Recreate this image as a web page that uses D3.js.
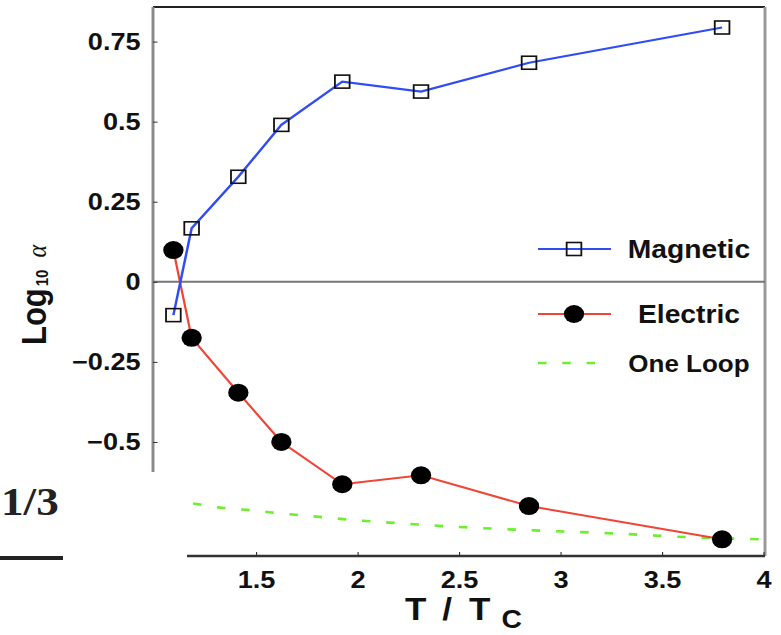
<!DOCTYPE html>
<html>
<head>
<meta charset="utf-8">
<script src="https://cdn.jsdelivr.net/npm/d3@7"></script>
<style>
  body { margin: 0; background: #fff; }
</style>
</head>
<body>
<div id="chart"></div>
<script>
// T / Tc positions shared by both lattice series
const tRatio = [1.093, 1.183, 1.413, 1.625, 1.925, 2.313, 2.845, 3.796];
const magnetic = [-0.104, 0.167, 0.328, 0.490, 0.625, 0.594, 0.684, 0.794];
const electric = [0.099, -0.175, -0.346, -0.500, -0.632, -0.604, -0.700, -0.804];

const oneLoopT = [1.19, 1.34, 1.47, 1.59, 1.71, 1.83, 1.95, 2.07, 2.19, 2.31, 2.43, 2.55, 2.79, 3.28, 3.62, 4.0];
const oneLoop = [-0.692, -0.706, -0.713, -0.721, -0.728, -0.735, -0.742, -0.748, -0.753, -0.758, -0.763, -0.767, -0.774, -0.786, -0.797, -0.804];

const yTicks = [0.75, 0.5, 0.25, 0, -0.25, -0.5];
const yTickLabels = ["0.75", "0.5", "0.25", "0", "\u22120.25", "\u22120.5"];
const xTicks = [1.5, 2, 2.5, 3, 3.5, 4];
const xTickLabels = ["1.5", "2", "2.5", "3", "3.5", "4"];
const legendNames = ["Magnetic", "Electric", "One Loop"];

const W = 781, H = 635;
// the original figure is squeezed wider than tall, so draw everything stretched
const sx = 1.13;
const frame = {left: 153, right: 765, top: 7, bottom: 556, leftEnd: 472, bottomStart: 187};
const sans = "Liberation Sans, Arial, sans-serif";
const serif = "Liberation Serif, DejaVu Serif, serif";

const svg = d3.select("#chart").append("svg")
    .attr("width", W)
    .attr("height", H);

const g = svg.append("g")
    .attr("transform", `scale(${sx},1)`)
    .style("font-family", sans)
    .style("font-weight", "bold");

const x = d3.scaleLinear().domain([1.5, 4]).range([256 / sx, 763.5 / sx]);
const y = d3.scaleLinear().domain([-0.856, 0.858]).range([frame.bottom, frame.top]);

// frame lines
g.append("line")  // top
    .attr("x1", frame.left / sx).attr("x2", frame.right / sx)
    .attr("y1", frame.top).attr("y2", frame.top)
    .attr("stroke", "#222").attr("stroke-width", 2);
g.append("line")  // right
    .attr("x1", frame.right / sx).attr("x2", frame.right / sx)
    .attr("y1", frame.top).attr("y2", frame.bottom)
    .attr("stroke", "#999").attr("stroke-width", 2.6);
g.append("line")  // left axis, cut short
    .attr("x1", frame.left / sx).attr("x2", frame.left / sx)
    .attr("y1", frame.top).attr("y2", frame.leftEnd)
    .attr("stroke", "#8a8a8a").attr("stroke-width", 2.6);
g.append("line")  // zero line
    .attr("x1", frame.left / sx).attr("x2", frame.right / sx)
    .attr("y1", y(0)).attr("y2", y(0))
    .attr("stroke", "#777").attr("stroke-width", 2);
g.append("line")  // bottom axis
    .attr("x1", frame.bottomStart / sx).attr("x2", frame.right / sx)
    .attr("y1", frame.bottom).attr("y2", frame.bottom)
    .attr("stroke", "#333").attr("stroke-width", 2.4);

// y axis
const yAxis = g.append("g")
    .attr("transform", `translate(${frame.left / sx},0)`)
    .call(d3.axisLeft(y)
      .tickValues(yTicks)
      .tickFormat((d, i) => yTickLabels[i])
      .tickSize(-4)
      .tickPadding(11));
yAxis.select(".domain").remove();
yAxis.selectAll(".tick line").attr("stroke", "#333");
yAxis.selectAll(".tick text")
    .attr("font-family", sans)
    .attr("font-weight", "bold")
    .attr("font-size", 24)
    .attr("fill", "#111");

// x axis
const xAxis = g.append("g")
    .attr("transform", `translate(0,${frame.bottom})`)
    .call(d3.axisBottom(x)
      .tickValues(xTicks)
      .tickFormat((d, i) => xTickLabels[i])
      .tickSize(-4)
      .tickPadding(15));
xAxis.select(".domain").remove();
xAxis.selectAll(".tick line").attr("stroke", "#333");
xAxis.selectAll(".tick text")
    .attr("font-family", sans)
    .attr("font-weight", "bold")
    .attr("font-size", 24)
    .attr("fill", "#111");

// axis titles
const xt = g.append("text")
    .attr("x", 405 / sx)
    .attr("y", 620)
    .attr("fill", "#111")
    .attr("font-size", 31);
xt.append("tspan").text("T");
xt.append("tspan").attr("dx", 14).text("/");
xt.append("tspan").attr("dx", 15).text("T");
xt.append("tspan").attr("dx", 10).attr("dy", 8).attr("font-size", 25).text("C");

const yt = g.append("text")
    .attr("transform", `translate(${46 / sx},345) rotate(-90)`)
    .attr("fill", "#111")
    .attr("font-size", 31);
yt.append("tspan").text("Log");
yt.append("tspan").attr("dx", 2).attr("dy", 2).attr("font-size", 15).text("10");
yt.append("tspan")
    .attr("dx", 12).attr("dy", -2)
    .style("font-family", serif)
    .style("font-style", "italic")
    .style("font-weight", "normal")
    .attr("font-size", 24)
    .text("\u03b1");

// one loop dashed curve
const loopData = oneLoopT.map((t, i) => ({t: t, v: oneLoop[i]}));
g.append("path")
    .datum(loopData)
    .attr("fill", "none")
    .attr("stroke", "#6cf02c")
    .attr("stroke-width", 2.6)
    .attr("stroke-dasharray", "7.5,14")
    .attr("d", d3.line().x(d => x(d.t)).y(d => y(d.v)).curve(d3.curveMonotoneX));

const line = d3.line().x(d => x(d.t)).y(d => y(d.v));
const magData = tRatio.map((t, i) => ({t: t, v: magnetic[i]}));
const eleData = tRatio.map((t, i) => ({t: t, v: electric[i]}));

g.append("path").datum(eleData)
    .attr("fill", "none").attr("stroke", "#ef4536").attr("stroke-width", 2)
    .attr("d", line);
g.append("path").datum(magData)
    .attr("fill", "none").attr("stroke", "#2f4cf5").attr("stroke-width", 2.2)
    .attr("d", line);

// markers
const sq = 13;
g.selectAll(".mag").data(magData).enter().append("rect")
    .attr("class", "mag")
    .attr("x", d => x(d.t) - sq / 2)
    .attr("y", d => y(d.v) - sq / 2)
    .attr("width", sq).attr("height", sq)
    .attr("fill", "none").attr("stroke", "#111").attr("stroke-width", 1.6);
g.selectAll(".ele").data(eleData).enter().append("circle")
    .attr("class", "ele")
    .attr("cx", d => x(d.t))
    .attr("cy", d => y(d.v))
    .attr("r", 9)
    .attr("fill", "#000");

// legend
const legendRows = [
  {name: legendNames[0], y: 249, color: "#2f4cf5", mark: "square", size: 25},
  {name: legendNames[1], y: 314, color: "#ef4536", mark: "circle", size: 25},
  {name: legendNames[2], y: 363, color: "#6cf02c", mark: "dash", size: 23}
];
const lx0 = 538 / sx, lx1 = 611 / sx, lmid = 574 / sx;
const leg = g.selectAll(".leg").data(legendRows).enter().append("g").attr("class", "leg");
leg.append("line")
    .attr("x1", lx0).attr("x2", d => d.mark === "dash" ? 600 / sx : lx1)
    .attr("y1", d => d.y).attr("y2", d => d.y)
    .attr("stroke", d => d.color)
    .attr("stroke-width", d => d.mark === "dash" ? 2.6 : 2.2)
    .attr("stroke-dasharray", d => d.mark === "dash" ? "7.5,14" : null);
leg.filter(d => d.mark === "square").append("rect")
    .attr("x", lmid - sq / 2).attr("y", d => d.y - sq / 2)
    .attr("width", sq).attr("height", sq)
    .attr("fill", "none").attr("stroke", "#111").attr("stroke-width", 1.6);
leg.filter(d => d.mark === "circle").append("circle")
    .attr("cx", lmid).attr("cy", d => d.y).attr("r", 9).attr("fill", "#000");
leg.append("text")
    .attr("x", 689 / sx)
    .attr("y", d => d.y + 9)
    .attr("text-anchor", "middle")
    .attr("fill", "#111")
    .attr("font-size", d => d.size)
    .text(d => d.name);

// stray pieces of the neighbouring figure at the lower left
g.append("text")
    .attr("x", 1 / sx)
    .attr("y", 515)
    .style("font-family", serif)
    .style("font-weight", "bold")
    .attr("fill", "#222")
    .attr("font-size", 40)
    .text("1/3");
g.append("line")
    .attr("x1", 0).attr("x2", 63 / sx)
    .attr("y1", 558).attr("y2", 558)
    .attr("stroke", "#222").attr("stroke-width", 4);
</script>
</body>
</html>
